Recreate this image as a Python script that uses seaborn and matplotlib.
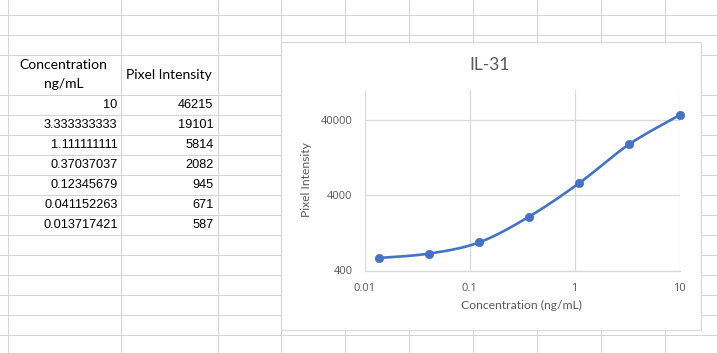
import numpy as np
import pandas as pd
import matplotlib
matplotlib.use("Agg")
import matplotlib.pyplot as plt
import seaborn as sns
from matplotlib.patches import Rectangle
from matplotlib.ticker import FixedLocator, FixedFormatter, NullLocator

# ---- data ----
concentration = [10, 3.333333333, 1.111111111, 0.37037037, 0.12345679, 0.041152263, 0.013717421]
intensity = [46215, 19101, 5814, 2082, 945, 671, 587]
conc_labels = ["10", "3.333333333", "1.111111111", "0.37037037", "0.12345679", "0.041152263", "0.013717421"]
intensity_labels = ["46215", "19101", "5814", "2082", "945", "671", "587"]
x_ticks = [0.01, 0.1, 1, 10]
x_tick_labels = ["0.01", "0.1", "1", "10"]
y_ticks = [400, 4000, 40000]
y_tick_labels = ["400", "4000", "40000"]
chart_title = "IL-31"
x_label = "Concentration (ng/mL)"
y_label = "Pixel Intensity"
header_a = ["Concentration", "ng/mL"]
header_b = "Pixel Intensity"

sns.set_theme(style="white")
plt.rcParams['font.family'] = ['Lato', 'DejaVu Sans']

BLUE = "#4472C4"
GRID = "#D9D9D9"
SHEET = "#D4D4D4"
TXT = "#595959"


def excel_smooth(xs, ys, n=40):
    """Excel-like smoothed line (Catmull-Rom Bezier) in log-log space."""
    lx = np.log10(np.asarray(xs, float))
    ly = np.log10(np.asarray(ys, float))
    order = np.argsort(lx)
    P = np.column_stack([lx[order], ly[order]])
    m = len(P)
    segs = []
    t = np.linspace(0, 1, n)[:, None]
    for i in range(m - 1):
        p0 = P[i - 1] if i > 0 else P[i]
        p1, p2 = P[i], P[i + 1]
        p3 = P[i + 2] if i + 2 < m else P[i + 1]
        c1 = p1 + (p2 - p0) / 6.0
        c2 = p2 - (p3 - p1) / 6.0
        seg = (1 - t) ** 3 * p1 + 3 * (1 - t) ** 2 * t * c1 + 3 * (1 - t) * t ** 2 * c2 + t ** 3 * p2
        if i > 0:
            seg = seg[1:]
        segs.append(seg)
    S = np.vstack(segs)
    return 10 ** S[:, 0], 10 ** S[:, 1]


W, H = 717, 353
fig = plt.figure(figsize=(W / 100, H / 100), dpi=100)
fig.patch.set_facecolor("white")

# ---- spreadsheet background ----
bg = fig.add_axes([0, 0, 1, 1])
bg.set_xlim(0, W)
bg.set_ylim(H, 0)
bg.axis("off")
row_lines = [14, 34, 54] + list(range(94, 354, 20))
col_lines = [7, 120, 217, 280, 344, 408, 472, 536, 600, 664]
for yy in row_lines:
    bg.plot([0, W], [yy + 0.5, yy + 0.5], color=SHEET, lw=0.75, zorder=1)
for xx in col_lines:
    bg.plot([xx + 0.5, xx + 0.5], [0, H], color=SHEET, lw=0.75, zorder=1)

# table cells
head_font = dict(fontsize=10, color="#000000", zorder=3)
num_font = dict(fontsize=9.2, color="#000000", zorder=3, family=["Liberation Sans", "DejaVu Sans"])
bg.text(63.5, 65, header_a[0], ha="center", va="center", **head_font)
bg.text(63.5, 84, header_a[1], ha="center", va="center", **head_font)
bg.text(168.5, 75, header_b, ha="center", va="center", **head_font)
for i, (a, b) in enumerate(zip(conc_labels, intensity_labels)):
    yc = 104.5 + 20 * i
    bg.text(117.5, yc, a, ha="right", va="center", **num_font)
    bg.text(213.5, yc, b, ha="right", va="center", **num_font)

# chart box
bg.add_patch(Rectangle((280.5, 41.5), 420, 288, facecolor="white", edgecolor=GRID, lw=0.9, zorder=5))
bg.text(490, 65, chart_title, ha="center", va="center", fontsize=12.5, color=TXT, zorder=6)
bg.text(521.8, 305.5, x_label, ha="center", va="center", fontsize=8.7, color=TXT, zorder=6)
bg.text(306.5, 180, y_label, ha="center", va="center", rotation=90, fontsize=8.7, color=TXT, zorder=6)

# ---- plot area ----
left, right, top, bottom = 364.5, 679.5, 90, 270.5
ax = fig.add_axes([left / W, 1 - bottom / H, (right - left) / W, (bottom - top) / H])
ax.set_facecolor("none")
ax.set_xscale("log")
ax.set_yscale("log")

sx, sy = excel_smooth(concentration, intensity)
curve = pd.DataFrame({"x": sx, "y": sy})
pts = pd.DataFrame({"Concentration": concentration, "Intensity": intensity})
sns.lineplot(data=curve, x="x", y="y", sort=False, ax=ax, color=BLUE, lw=1.9, zorder=3)
sns.scatterplot(data=pts, x="Concentration", y="Intensity", ax=ax, color=BLUE, s=36,
                edgecolor=BLUE, linewidth=0.5, zorder=4, clip_on=False)

ax.set_xlim(0.01, 10)
ax.set_ylim(400, 100000)
ax.xaxis.set_major_locator(FixedLocator(x_ticks))
ax.xaxis.set_major_formatter(FixedFormatter(x_tick_labels))
ax.yaxis.set_major_locator(FixedLocator(y_ticks))
ax.yaxis.set_major_formatter(FixedFormatter(y_tick_labels))
ax.xaxis.set_minor_locator(NullLocator())
ax.yaxis.set_minor_locator(NullLocator())
ax.grid(True, which="major", color=GRID, lw=0.9)
ax.set_axisbelow(True)
for s in ["top", "right", "left"]:
    ax.spines[s].set_visible(False)
ax.spines["bottom"].set_color(GRID)
ax.spines["bottom"].set_linewidth(0.9)
ax.tick_params(axis="both", length=0, labelsize=8, labelcolor=TXT)
ax.tick_params(axis="x", pad=9)
ax.tick_params(axis="y", pad=8.5)
for lab in ax.get_xticklabels() + ax.get_yticklabels():
    lab.set_family(["Open Sans", "DejaVu Sans"])
ax.set_xlabel("")
ax.set_ylabel("")

fig.savefig("out.png", dpi=100, facecolor="white")
